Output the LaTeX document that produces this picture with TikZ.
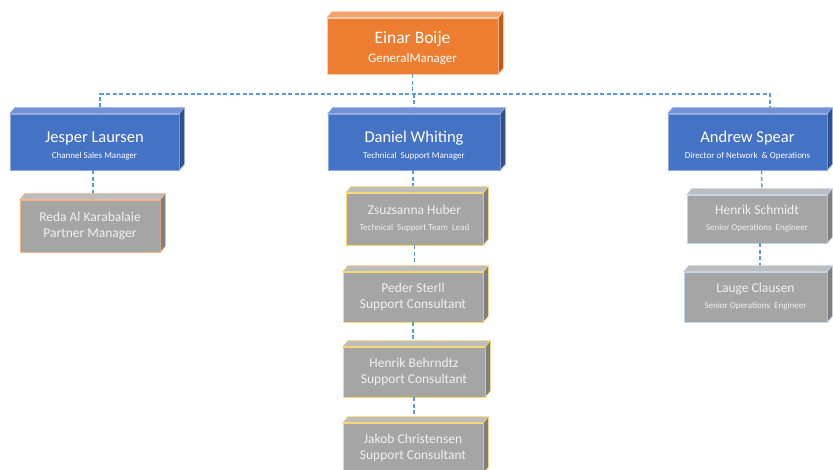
\documentclass[tikz,border=0pt]{standalone}
\usepackage{fontspec}
\setmainfont{Carlito}
\definecolor{orF}{HTML}{ED7D31}
\definecolor{orT}{HTML}{F3A36E}
\definecolor{orS}{HTML}{C55A11}
\definecolor{orB}{HTML}{F8CBAD}
\definecolor{blF}{HTML}{4472C4}
\definecolor{blT}{HTML}{7393D6}
\definecolor{blS}{HTML}{2F528F}
\definecolor{blB}{HTML}{8FAADC}
\definecolor{grF}{HTML}{A5A5A5}
\definecolor{grT}{HTML}{BDBDBD}
\definecolor{grS}{HTML}{7F7F7F}
\definecolor{bdO}{HTML}{F4B183}
\definecolor{bdY}{HTML}{FFD966}
\definecolor{bdB}{HTML}{BDD7EE}
\definecolor{conn}{HTML}{5B9BD5}
\definecolor{gtxt}{HTML}{F0F0F0}
\newcommand\cubefaces[4]{%
  \filldraw[fill=#2, draw=#4, line width=0.6pt, line join=round] (#1.north west) -- ++(5,-6) -- ([shift={(5,-6)}]#1.north east) -- (#1.north east) -- cycle;
  \filldraw[fill=#3, draw=#4, line width=0.6pt, line join=round] (#1.north east) -- ++(5,-6) -- ([shift={(5,-6)}]#1.south east) -- (#1.south east) -- cycle;
}
\newcommand\bigname{\fontsize{16.5}{16}\selectfont\lineskiplimit=-20pt\relax\rule{0pt}{18pt}}
\newcommand\smalltitle{\fontsize{9}{16}\selectfont\lineskiplimit=-20pt\relax}
\newcommand\grayname{\fontsize{13.5}{16}\selectfont}
\begin{document}
\begin{tikzpicture}[x=1pt,y=-1pt,
  boxbase/.style={rectangle, inner sep=0pt, align=center, line width=0.6pt, font=\fontsize{12}{16}\selectfont},
  orangebox/.style={boxbase, fill=orF, draw=orB, text=white, font=\fontsize{12}{19}\selectfont},
  bluebox/.style={boxbase, fill=blF, draw=blB, text=white},
  graybox/.style={boxbase, fill=grF, text=gtxt},
  link/.style={draw=conn, line width=1.4pt, dash pattern=on 4pt off 2.5pt}]
\fill[white] (0,0) rectangle (833,470);
\useasboundingbox (0,0) rectangle (833,470);

\node[orangebox, minimum width=171pt, minimum height=56pt] (E) at (412.5,46)
  {\fontsize{17.5}{19}\selectfont\rule{0pt}{17pt}Einar Boije\\\fontsize{13}{19}\selectfont GeneralManager};
\coordinate (bus) at (415,94);

\node[bluebox, minimum width=169pt, minimum height=56pt] (J) at (94.5,142)
  {\bigname Jesper Laursen\\\smalltitle Channel Sales Manager};
\node[bluebox, minimum width=172pt, minimum height=56pt] (D) at (414,142)
  {\bigname Daniel Whiting\\\smalltitle Technical\ \ Support Manager};
\node[bluebox, minimum width=159pt, minimum height=56pt] (A) at (747.5,142)
  {\bigname Andrew Spear\\\smalltitle Director of Network\ \ \& Operations};

\node[graybox, draw=bdO, minimum width=140pt, minimum height=52pt] (R) at (90,226)
  {\grayname Reda Al Karabalaie\\\grayname Partner Manager};
\node[graybox, draw=bdY, minimum width=137pt, minimum height=52pt] (Z) at (414.5,219)
  {\grayname Zsuzsanna Huber\\\smalltitle Technical\ \ Support Team\ \ Lead};
\node[graybox, draw=bdY, minimum width=140pt, minimum height=50pt] (P) at (413,297)
  {\grayname Peder Sterll\\\grayname Support Consultant};
\node[graybox, draw=bdY, minimum width=142pt, minimum height=50pt] (HB) at (414,372)
  {\grayname Henrik Behrndtz\\\grayname Support Consultant};
\node[graybox, draw=bdY, minimum width=140pt, minimum height=50pt] (JC) at (413,448)
  {\grayname Jakob Christensen\\\grayname Support Consultant};
\node[graybox, draw=bdB, minimum width=140pt, minimum height=48pt] (HS) at (757,219)
  {\grayname Henrik Schmidt\\\smalltitle Senior Operations\ \ Engineer};
\node[graybox, draw=bdB, minimum width=143pt, minimum height=50pt] (L) at (755.5,297)
  {\grayname Lauge Clausen\\\smalltitle Senior Operations\ \ Engineer};

% connectors
\draw[link] (E.south) -- (E.south |- bus);
\draw[link] ([xshift=5.5pt]J.north) |- (bus) -| ([xshift=22.5pt]A.north);
\draw[link] (D.north |- bus) -- (D.north);
\draw[link] ([xshift=-1.5pt]J.south) -- ([xshift=3pt]R.north);
\draw[link] ([xshift=-1pt]D.south) -- ([xshift=-1.5pt]Z.north);
\draw[link] (Z.south) -- (Z.south |- P.north);
\draw[link] (P.south) -- (P.south |- HB.north);
\draw[link] (HB.south) -- (HB.south |- JC.north);
\draw[link] ([xshift=14pt]A.south) -- ([xshift=5pt]HS.north);
\draw[link] ([xshift=3pt]HS.south) -- ([xshift=4.5pt]L.north);

% top and side faces, drawn over connector ends
\foreach \n/\t/\s/\b in {E/orT/orS/orB, J/blT/blS/blB, D/blT/blS/blB, A/blT/blS/blB,
  R/grT/grS/bdO, Z/grT/grS/bdY, P/grT/grS/bdY, HB/grT/grS/bdY, JC/grT/grS/bdY,
  HS/grT/grS/bdB, L/grT/grS/bdB}{
  \cubefaces{\n}{\t}{\s}{\b}
}
\end{tikzpicture}
\end{document}
